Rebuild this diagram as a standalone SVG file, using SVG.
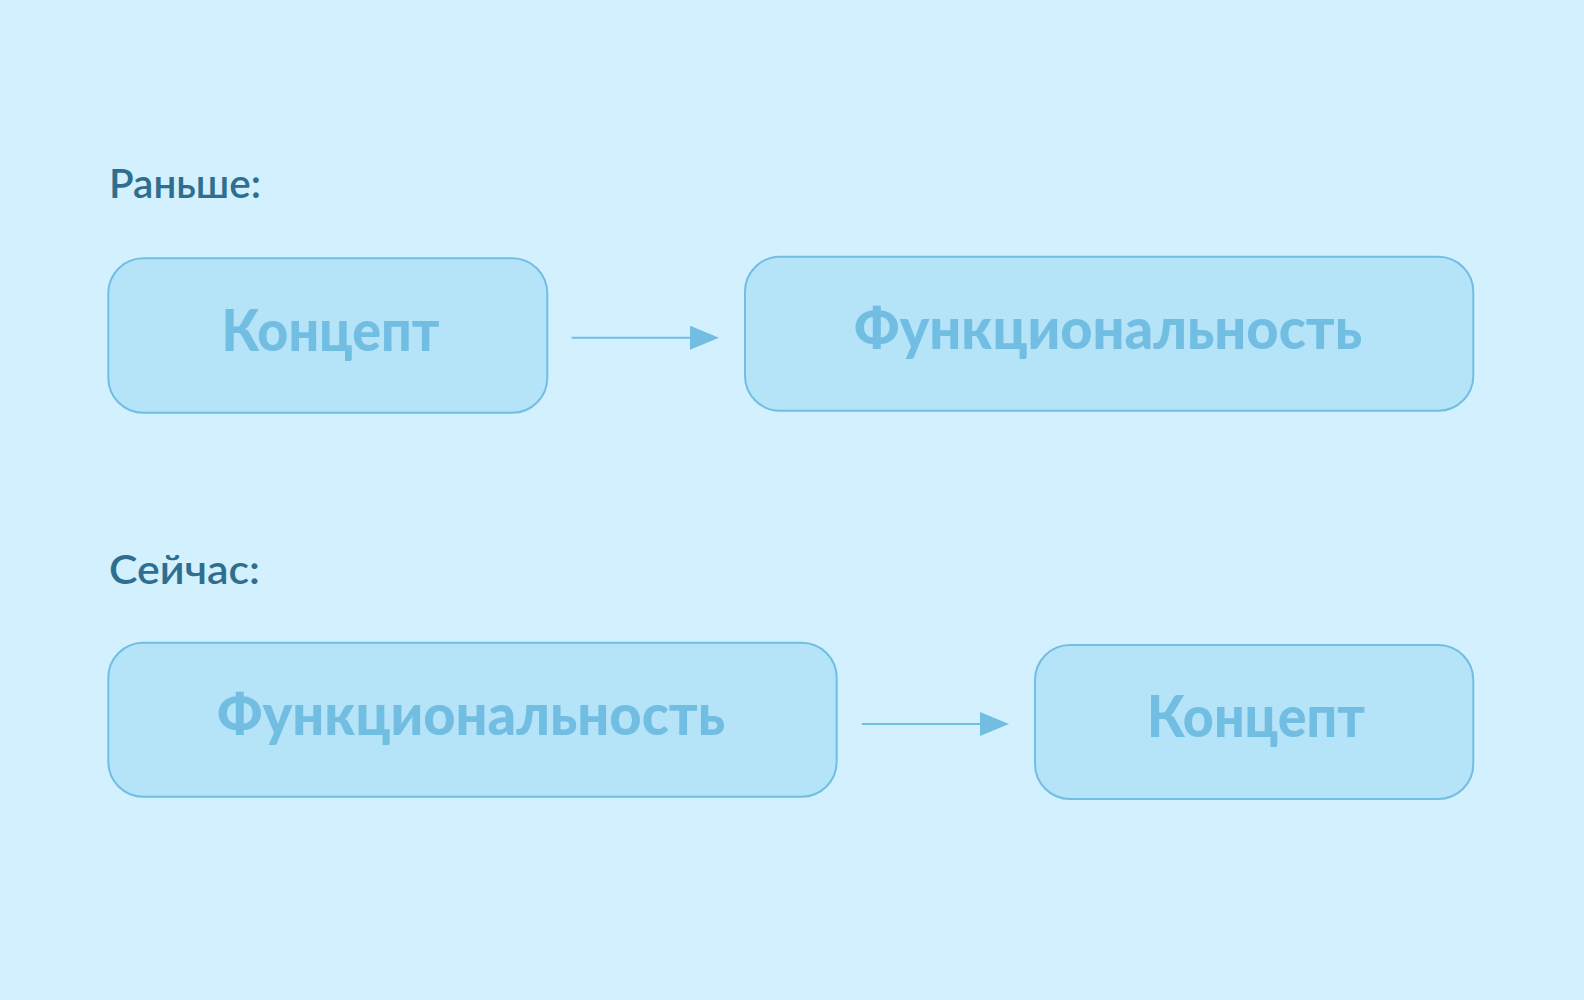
<svg xmlns="http://www.w3.org/2000/svg" width="1584" height="1000" viewBox="0 0 1584 1000">
  <defs>
    <style>
      .bg { fill: #D3F0FE; }
      .box { fill: #B5E3F8; stroke: #72BEE3; stroke-width: 2; }
      .label { fill: #72BEE3; font-family: "Lato", "Liberation Sans", sans-serif; font-weight: 900; font-size: 57px; text-anchor: middle; }
      .title { fill: #2F6E8E; font-family: "Lato", "Liberation Sans", sans-serif; font-weight: 600; font-size: 40px; }
      .conn { stroke: #72BEE3; stroke-width: 2; fill: none; }
    </style>
    <marker id="arrow" viewBox="0 0 29 24" refX="0" refY="12" markerWidth="29" markerHeight="24" markerUnits="userSpaceOnUse" orient="auto">
      <path d="M0,0 L29,12 L0,24 Z" fill="#72BEE3"/>
    </marker>
  </defs>
  <rect class="bg" x="0" y="0" width="1584" height="1000"/>

  <g id="title-before">
    <text class="title" x="109" y="198.3" textLength="152" lengthAdjust="spacingAndGlyphs">Раньше:</text>
  </g>
  <g id="title-now">
    <text class="title" x="109" y="584.3" textLength="151" lengthAdjust="spacingAndGlyphs">Сейчас:</text>
  </g>

  <g id="node-concept-1">
    <rect class="box" x="108.3" y="258.3" width="439" height="154.4" rx="35" ry="35"/>
    <text class="label" x="330.5" y="351" textLength="218" lengthAdjust="spacingAndGlyphs">Концепт</text>
  </g>
  <g id="node-func-1">
    <rect class="box" x="745" y="256.7" width="728.3" height="154" rx="35" ry="35"/>
    <text class="label" x="1108" y="349.2" textLength="508" lengthAdjust="spacingAndGlyphs">Функциональность</text>
  </g>
  <g id="node-func-2">
    <rect class="box" x="108.3" y="642.7" width="728.4" height="154" rx="35" ry="35"/>
    <text class="label" x="471" y="735" textLength="508" lengthAdjust="spacingAndGlyphs">Функциональность</text>
  </g>
  <g id="node-concept-2">
    <rect class="box" x="1035" y="645" width="438.3" height="154" rx="35" ry="35"/>
    <text class="label" x="1256" y="736.7" textLength="218" lengthAdjust="spacingAndGlyphs">Концепт</text>
  </g>

  <g id="connectors">
    <line class="conn" x1="571.7" y1="337.7" x2="690" y2="337.7" marker-end="url(#arrow)"/>
    <line class="conn" x1="861.7" y1="724" x2="980" y2="724" marker-end="url(#arrow)"/>
  </g>
</svg>
